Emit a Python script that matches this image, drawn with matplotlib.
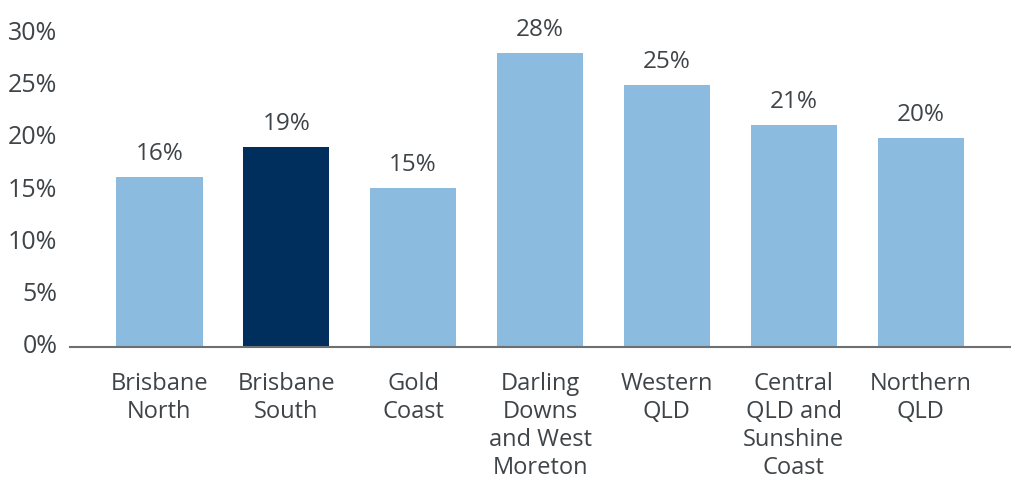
import matplotlib.pyplot as plt

categories = ["Brisbane\nNorth", "Brisbane\nSouth", "Gold\nCoast", "Darling\nDowns\nand West\nMoreton",
              "Western\nQLD", "Central\nQLD and\nSunshine\nCoast", "Northern\nQLD"]
values = [16.2, 19.1, 15.2, 28.1, 25.0, 21.2, 20.0]
labels = ["16%", "19%", "15%", "28%", "25%", "21%", "20%"]
yticks = [0, 5, 10, 15, 20, 25, 30]

light = "#8bbbdf"
dark = "#002e5d"
text_col = "#3f4448"

plt.rcParams['font.family'] = ['Open Sans', 'DejaVu Sans']

fig = plt.figure(figsize=(10.12, 4.83), dpi=100)
ax = fig.add_axes([0.069, 0.2816, 0.931, 0.650])

x = list(range(len(categories)))
colors = [dark if i == 1 else light for i in x]
bars = ax.bar(x, values, width=0.68, color=colors)

for b, lab in zip(bars, labels):
    ax.annotate(lab, (b.get_x() + b.get_width() / 2, b.get_height()),
                xytext=(0, 8), textcoords="offset points",
                ha="center", va="bottom", fontsize=17.5, color=text_col)

ax.set_xlim(-0.706, 6.72)
ax.set_ylim(0, 30)
ax.set_yticks(yticks)
ax.set_yticklabels([f"{t}%" for t in yticks])
ax.set_xticks(x)
ax.set_xticklabels(categories, linespacing=1.22)

ax.tick_params(axis="y", length=0, pad=9, labelsize=18, labelcolor=text_col)
ax.tick_params(axis="x", length=0, pad=18, labelsize=17, labelcolor=text_col)
for lab in ax.get_yticklabels():
    lab.set_va("center")

for s in ["top", "right", "left"]:
    ax.spines[s].set_visible(False)
ax.spines["bottom"].set_color("#6d7073")
ax.spines["bottom"].set_linewidth(1.5)

fig.savefig("out.png", dpi=100)
